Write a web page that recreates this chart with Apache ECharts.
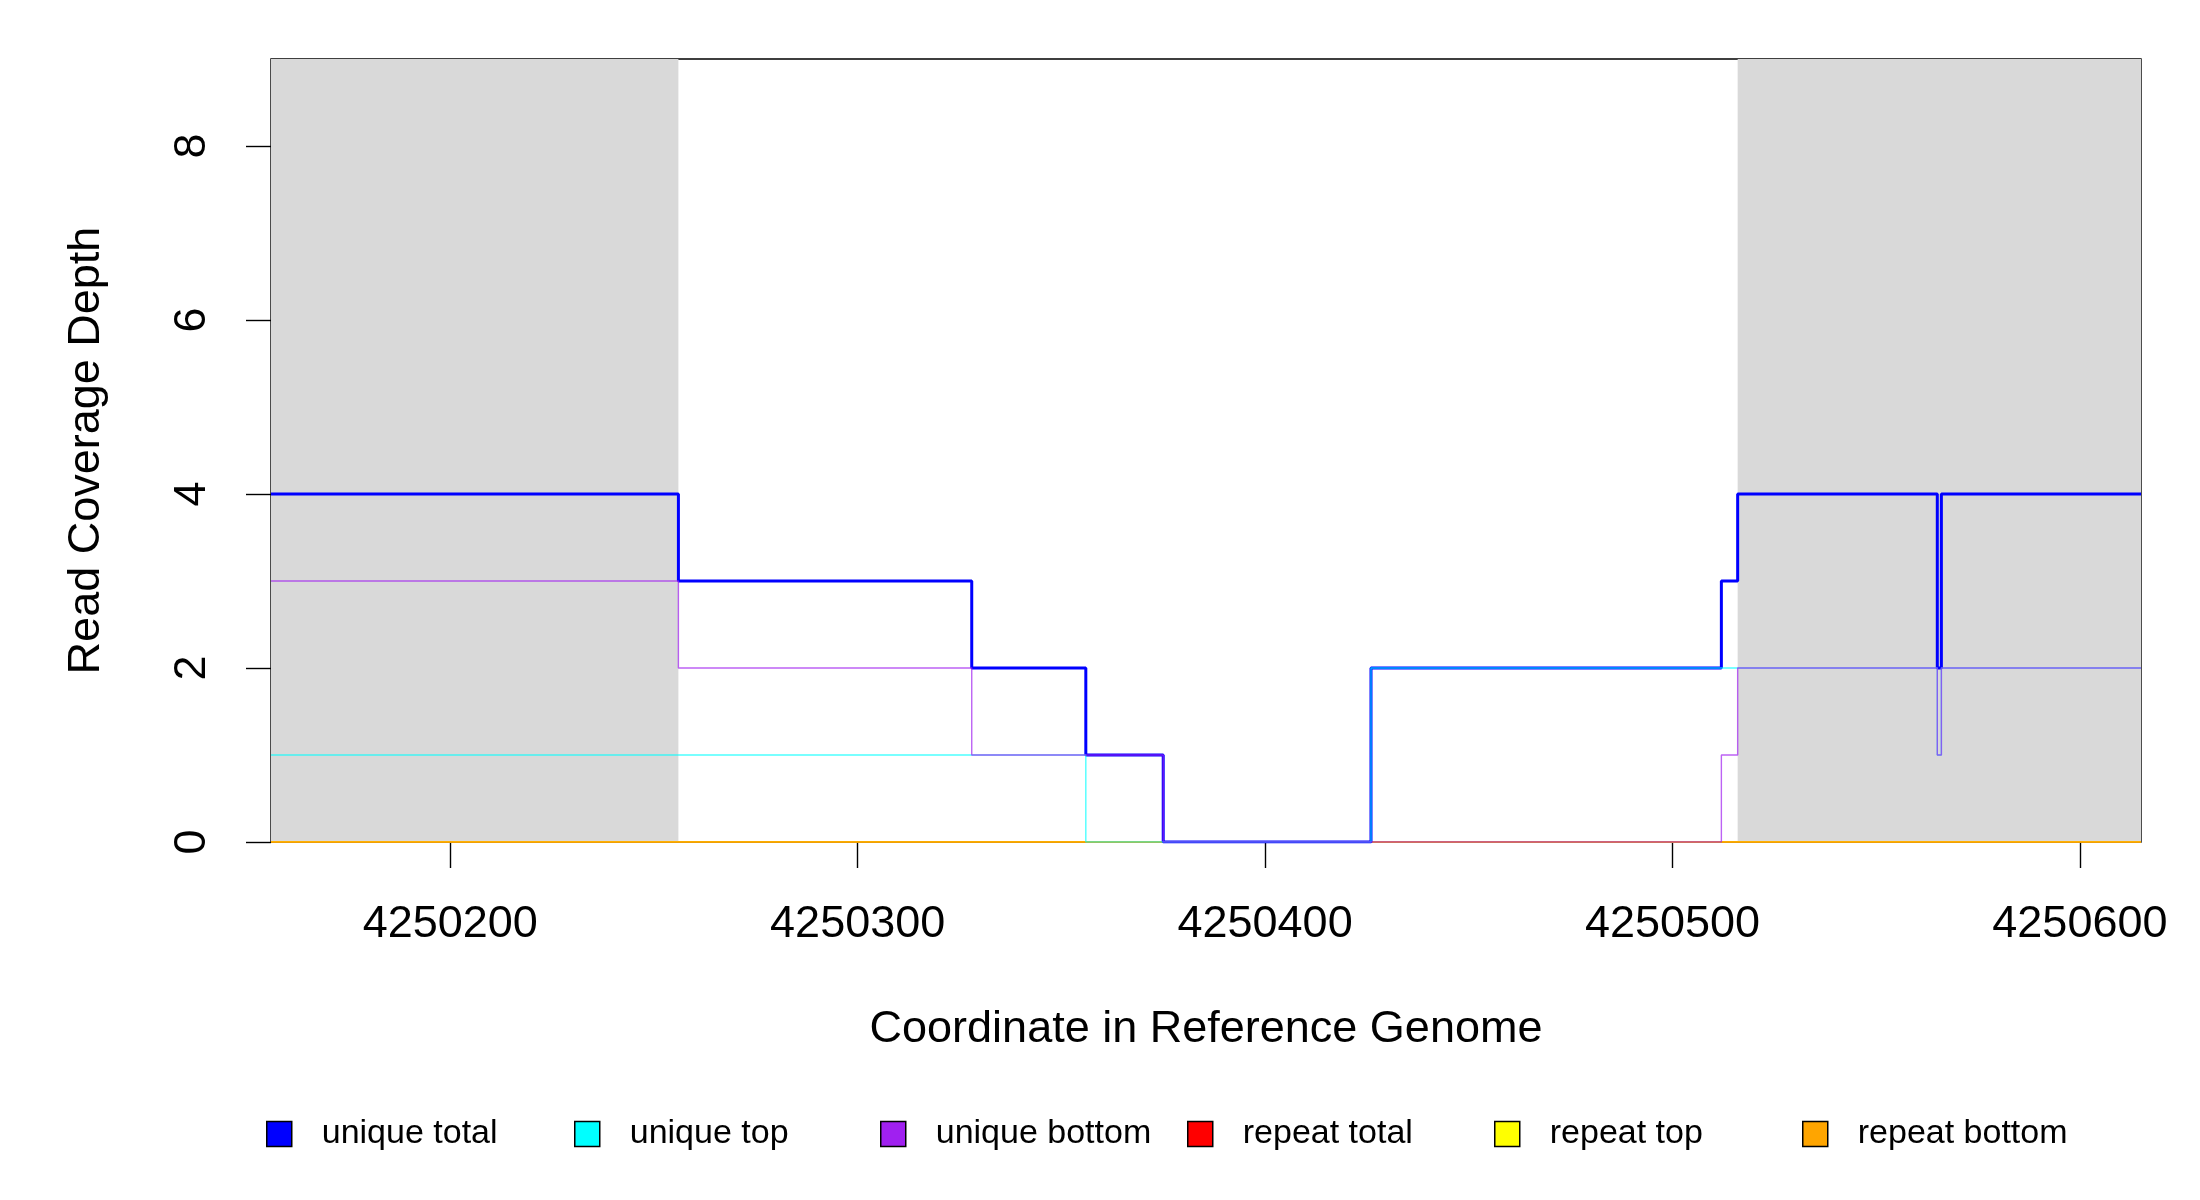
<!DOCTYPE html>
<html>
<head>
<meta charset="utf-8">
<script src="https://cdn.jsdelivr.net/npm/echarts@6/dist/echarts.min.js"></script>
<style>
  html, body { margin: 0; padding: 0; background: #fff; }
  #main { width: 2200px; height: 1200px; }
</style>
</head>
<body>
<div id="main"></div>
<script>
"use strict";

// step change points along the reference coordinate
const coords = [4250156, 4250256, 4250328, 4250356, 4250375, 4250426, 4250512, 4250516, 4250565, 4250566, 4250615];
const uniqueTotal = [4, 3, 2, 1, 0, 2, 3, 4, 2, 4, 4];
const uniqueTop = [1, 1, 1, 0, 0, 2, 2, 2, 1, 2, 2];
const uniqueBottom = [3, 2, 1, 1, 0, 0, 1, 2, 1, 2, 2];
const repeatTotal = [0, 0, 0, 0, 0, 0, 0, 0, 0, 0, 0];
const repeatTop = [0, 0, 0, 0, 0, 0, 0, 0, 0, 0, 0];
const repeatBottom = [0, 0, 0, 0, 0, 0, 0, 0, 0, 0, 0];

// shaded regions
const shaded = [
  [4250156, 4250256],
  [4250516, 4250615],
];

const xTicks = [4250200, 4250300, 4250400, 4250500, 4250600];
const yTicks = [0, 2, 4, 6, 8];

const legendNames = ["unique total", "unique top", "unique bottom", "repeat total", "repeat top", "repeat bottom"];
const legendLeft = [261, 569, 875, 1182, 1489, 1797];

let chartDom = document.getElementById("main");
let myChart = echarts.init(chartDom);

const font = "Liberation Sans, Arial, sans-serif";

function pairs(vals) {
  return coords.map((c, i) => [c, vals[i]]);
}

function stepSeries(name, vals, color, width, opacity) {
  return {
    name: name,
    type: "line",
    step: "end",
    data: pairs(vals),
    showSymbol: false,
    symbol: "none",
    color: color,
    itemStyle: { color: color },
    lineStyle: { color: color, width: width, opacity: opacity },
    emphasis: { disabled: true },
  };
}

const series = [
  stepSeries("repeat total", repeatTotal, "#ff0000", 1.4, 1),
  stepSeries("repeat top", repeatTop, "#ffff00", 1.4, 1),
  stepSeries("repeat bottom", repeatBottom, "#ffa500", 1.5, 1),
  stepSeries("unique total", uniqueTotal, "#0000ff", 3, 1),
  stepSeries("unique top", uniqueTop, "#00ffff", 1.4, 0.7),
  stepSeries("unique bottom", uniqueBottom, "#a020f0", 1.4, 0.7),
];

series[0].markArea = {
  silent: true,
  itemStyle: { color: "#d9d9d9" },
  data: shaded.map((s) => [{ xAxis: s[0] }, { xAxis: s[1] }]),
};

const legends = legendNames.map((name, i) => ({
  data: [name],
  left: legendLeft[i],
  top: 1112,
  icon: "rect",
  itemWidth: 25,
  itemHeight: 25,
  itemStyle: { borderColor: "#000", borderWidth: 1.5 },
  textStyle: {
    fontFamily: font,
    fontSize: 34,
    color: "#000",
    padding: [0, 0, 0, 25],
  },
  selectedMode: false,
}));

let option = {
  animation: false,
  backgroundColor: "#fff",
  grid: {
    left: 271,
    right: 59,
    top: 59,
    bottom: 358,
    show: true,
    borderColor: "#000",
    borderWidth: 1.4,
    backgroundColor: "transparent",
  },
  legend: legends,
  xAxis: {
    type: "value",
    min: 4250156,
    max: 4250615,
    name: "Coordinate in Reference Genome",
    nameLocation: "middle",
    nameGap: 165,
    nameTextStyle: { fontFamily: font, fontSize: 45, color: "#000" },
    axisLine: { show: false },
    splitLine: { show: false },
    axisTick: {
      show: true,
      length: 26,
      customValues: xTicks,
      lineStyle: { color: "#000", width: 1.4 },
    },
    axisLabel: {
      customValues: xTicks,
      formatter: (v) => String(v),
      fontFamily: font,
      fontSize: 45,
      color: "#000",
      margin: 60,
      hideOverlap: false,
      showMinLabel: true,
      showMaxLabel: true,
    },
  },
  yAxis: {
    type: "value",
    min: 0,
    max: 9,
    name: "Read Coverage Depth",
    nameLocation: "middle",
    nameGap: 162,
    nameTextStyle: { fontFamily: font, fontSize: 45, color: "#000" },
    axisLine: { show: false },
    splitLine: { show: false },
    axisTick: {
      show: true,
      length: 25,
      customValues: yTicks,
      lineStyle: { color: "#000", width: 1.4 },
    },
    axisLabel: {
      customValues: yTicks,
      rotate: 90,
      fontFamily: font,
      fontSize: 45,
      color: "#000",
      margin: 56,
    },
  },
  series: series,
};

option && myChart.setOption(option);
</script>
</body>
</html>
